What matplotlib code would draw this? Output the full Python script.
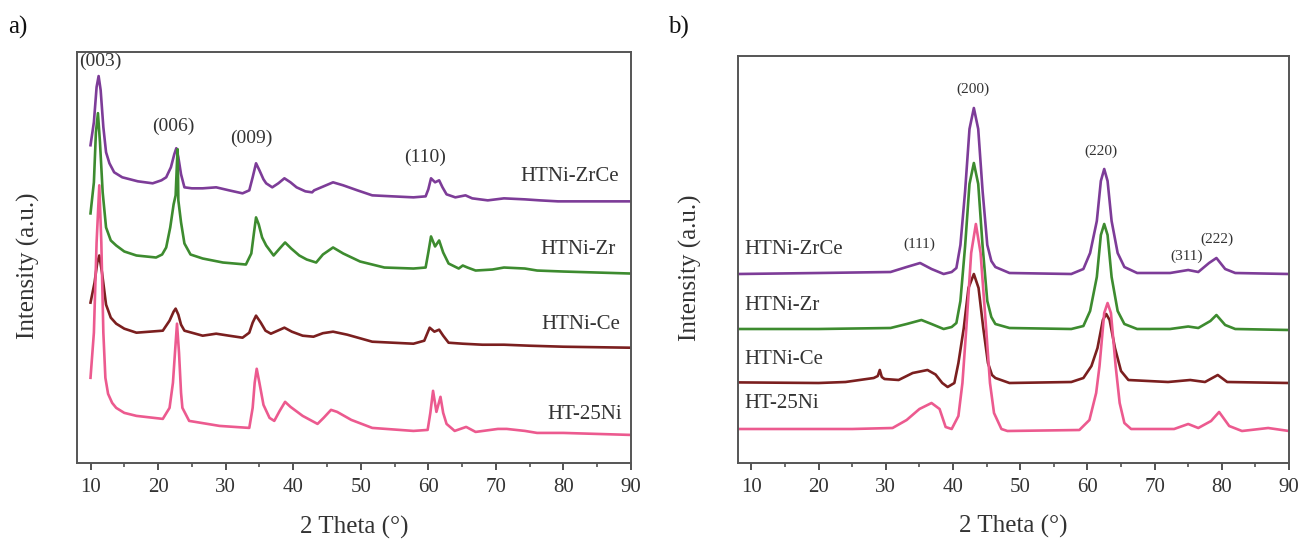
import numpy as np
import matplotlib
matplotlib.use('Agg')
import matplotlib.pyplot as plt
from matplotlib.ticker import MultipleLocator

plt.rcParams['font.family'] = ['Liberation Serif', 'DejaVu Serif']

# (2theta, intensity a.u.), stacked offsets included
# panel a) hydrotalcite precursors
a_zrce = [(10.0, 317), (10.5, 340), (10.9, 375), (11.2, 386), (11.5, 372), (11.9, 335), (12.3, 310),
          (12.8, 299), (13.5, 290), (14.7, 285), (17.0, 281), (19.2, 279), (20.5, 282), (21.2, 285),
          (21.9, 295), (22.4, 308), (22.7, 314), (23.0, 305), (23.4, 288), (23.9, 275), (25.0, 274),
          (26.6, 274), (28.6, 275), (30.5, 272), (32.5, 269), (33.5, 272), (34.0, 285), (34.5, 299),
          (35.0, 292), (35.6, 283), (36.0, 279), (36.9, 275), (37.8, 279), (38.7, 284), (39.6, 280),
          (40.5, 275), (41.8, 271), (42.8, 270), (43.1, 272), (44.5, 276), (45.9, 280), (47.4, 277),
          (49.5, 272), (51.7, 267), (54.7, 266), (57.8, 265), (59.6, 266), (60.0, 273), (60.4, 284),
          (61.0, 280), (61.6, 282), (62.1, 275), (62.7, 268), (64.0, 265), (65.5, 267), (66.5, 264),
          (68.8, 262), (71.2, 264), (74.3, 263), (76.5, 262), (79.2, 261), (84.0, 261), (90.0, 261)]
a_zr = [(10.0, 249), (10.5, 280), (10.8, 330), (11.1, 349), (11.4, 320), (11.8, 270), (12.3, 235),
        (13.0, 222), (13.8, 217), (15.0, 211), (16.8, 207), (19.7, 205), (20.6, 208), (21.2, 215),
        (21.8, 235), (22.3, 258), (22.6, 267), (22.8, 300), (22.9, 313), (23.0, 262), (23.4, 240),
        (23.9, 219), (24.8, 208), (26.6, 204), (29.6, 200), (33.0, 198), (33.8, 209), (34.2, 230),
        (34.5, 245), (34.9, 238), (35.4, 225), (36.0, 217), (37.1, 207), (38.0, 214), (38.8, 220),
        (39.7, 214), (40.9, 207), (42.0, 203), (43.4, 200), (44.4, 208), (45.9, 215), (47.4, 209),
        (49.9, 201), (53.5, 195), (57.8, 194), (59.6, 195), (60.0, 210), (60.4, 226), (61.0, 216),
        (61.6, 222), (62.2, 210), (63.0, 199), (64.5, 194), (65.1, 197), (65.8, 195), (67.0, 192),
        (69.5, 193), (71.2, 195), (74.3, 194), (76.1, 192), (80.0, 191), (90.0, 189)]
a_ce = [(10.0, 160), (10.6, 180), (11.0, 200), (11.3, 207), (11.7, 190), (12.3, 158), (13.0, 145),
        (13.8, 139), (15.0, 134), (16.8, 130), (20.7, 132), (21.7, 142), (22.3, 151), (22.6, 154),
        (23.0, 148), (23.4, 138), (23.9, 132), (26.6, 127), (28.6, 129), (30.5, 127), (32.5, 125),
        (33.5, 130), (34.0, 140), (34.5, 147), (35.2, 140), (35.9, 132), (36.7, 129), (37.7, 132),
        (38.7, 135), (39.8, 131), (41.4, 127), (43.0, 126), (44.4, 129.5), (45.9, 131), (48.0, 128),
        (51.7, 121), (57.8, 119), (59.4, 122), (60.2, 135), (60.9, 131), (61.6, 133), (62.2, 127),
        (63.0, 120), (65.1, 119), (68.0, 118), (71.2, 118), (75.0, 117), (80.0, 116), (90.0, 115)]
a_ht = [(10.0, 85), (10.5, 130), (10.9, 220), (11.3, 277), (11.6, 220), (11.9, 130), (12.2, 85),
        (12.6, 69), (13.2, 60), (13.8, 55), (15.0, 50), (16.8, 47), (20.7, 44), (21.7, 55), (22.2, 80),
        (22.5, 110), (22.8, 139), (23.1, 110), (23.4, 70), (23.6, 55), (24.6, 42), (29.1, 37),
        (33.5, 35), (34.0, 55), (34.3, 80), (34.6, 94), (35.0, 80), (35.6, 58), (36.5, 45), (37.2, 42),
        (38.0, 52), (38.8, 61), (39.6, 56), (41.4, 47), (43.6, 39), (44.5, 45), (45.6, 53), (46.5, 51),
        (48.6, 43), (51.7, 35), (57.8, 32), (59.9, 33), (60.3, 50), (60.7, 72), (61.2, 51), (61.8, 66),
        (62.2, 50), (62.7, 39), (63.9, 32), (65.6, 36), (67.0, 31), (70.3, 34), (71.6, 34), (74.3, 32),
        (76.1, 30), (80.0, 30), (90.0, 28)]

# panel b) calcined samples
b_zrce = [(8, 189), (20, 190), (30.7, 191), (33.1, 196), (35.1, 200), (36.8, 194), (38.6, 189), (39.8, 191),
          (40.5, 195), (41.1, 218), (41.8, 272), (42.45, 334), (43.1, 355), (43.75, 334), (44.4, 272),
          (45.1, 218), (45.7, 202), (46.3, 196), (48.4, 190), (57.6, 189), (59.4, 194), (60.4, 210),
          (61.4, 242), (62.0, 282), (62.5, 294), (63.0, 282), (63.6, 242), (64.5, 210), (65.5, 196),
          (67.4, 190), (72.3, 190), (75.0, 193), (76.5, 191), (78.1, 200), (79.2, 205), (80.5, 194),
          (82.0, 190), (90, 189)]
b_zr = [(8, 134), (20, 134), (30.7, 135), (33.1, 139), (35.3, 143), (36.8, 139), (38.6, 134), (39.8, 136),
        (40.5, 140), (41.1, 162), (41.8, 217), (42.45, 279), (43.1, 300), (43.75, 279), (44.4, 217),
        (45.1, 162), (45.7, 146), (46.3, 139), (48.4, 135), (57.6, 134), (59.4, 137), (60.4, 152),
        (61.4, 186), (62.0, 228), (62.5, 239), (63.0, 228), (63.6, 186), (64.5, 152), (65.5, 139),
        (67.4, 134), (72.3, 134), (75.0, 136.5), (76.5, 135), (78.3, 142), (79.2, 148), (80.5, 138),
        (82.0, 134), (90, 133)]
b_ce = [(8, 80.6), (20, 80), (24, 81), (28.2, 85), (28.8, 87), (29.1, 93), (29.4, 86), (29.8, 84), (31.9, 83),
        (34.0, 90), (36.2, 93), (37.4, 88.5), (38.4, 80), (39.2, 76), (40.2, 80), (40.8, 100), (41.6, 135),
        (42.3, 175), (43.1, 189), (43.8, 175), (44.5, 135), (45.2, 100), (45.8, 88), (46.3, 85), (48.4, 80),
        (57.6, 81), (59.4, 85), (60.6, 97), (61.5, 115), (62.3, 143), (62.8, 149), (63.3, 143),
        (64.1, 115), (65.0, 92), (66.1, 83), (72, 81), (75.3, 83), (77.5, 81), (79.4, 88), (80.8, 81),
        (90, 80)]
b_ht = [(8, 34), (25, 34), (31, 35), (33.1, 43), (35.0, 54), (36.8, 60), (38.0, 54), (38.9, 36), (39.8, 34),
        (40.8, 47), (41.4, 80), (42.0, 137), (42.7, 210), (43.4, 239), (44.1, 210), (44.9, 137), (45.5, 80),
        (46.1, 50), (47.2, 34), (48.1, 32), (58.8, 33), (60.3, 43), (61.3, 70), (61.8, 97), (62.5, 150),
        (63.0, 160), (63.5, 150), (64.2, 97), (64.8, 60), (65.5, 40), (66.5, 34), (72.9, 34), (75.0, 39),
        (76.5, 35), (78.4, 42), (79.6, 51), (81.1, 37), (83, 32), (86.9, 35), (90, 32)]

names = ['HTNi-ZrCe', 'HTNi-Zr', 'HTNi-Ce', 'HT-25Ni']
colors = ['#7d3c98', '#3d8b2f', '#7b1f1f', '#ec5a8f']

a_series = [a_zrce, a_zr, a_ce, a_ht]
a_name_pos = [(88.2, 286), (87.8, 213), (88.4, 138), (88.6, 48)]
a_hkl = ['(003)', '(006)', '(009)', '(110)']
a_hkl_pos = [(11.5, 401), (22.3, 336), (33.8, 324), (59.5, 305)]

b_series = [b_zrce, b_zr, b_ce, b_ht]
b_name_pos = [(9.0, 214), (9.0, 157), (9.0, 104), (9.0, 59)]
b_hkl = ['(200)', '(220)', '(111)', '(311)', '(222)']
b_hkl_pos = [(42.9, 374), (62.0, 312), (35.0, 219), (74.7, 207), (79.3, 224)]

W, H = 1303, 545
fig = plt.figure(figsize=(W / 100, H / 100), dpi=100)
ax_a = fig.add_axes([77 / W, 1 - 463 / H, (631 - 77) / W, (463 - 52) / H])
ax_b = fig.add_axes([738 / W, 1 - 463 / H, (1289 - 738) / W, (463 - 56) / H])

text_col = '#333333'


def style(ax, ytop):
    ax.set_xlim(8, 90)
    ax.set_ylim(0, ytop)
    ax.set_yticks([])
    ax.xaxis.set_major_locator(MultipleLocator(10))
    ax.xaxis.set_minor_locator(MultipleLocator(5))
    ax.set_xticks(np.arange(10, 91, 10))
    ax.tick_params(axis='x', which='major', direction='out', length=5, width=1.3,
                   labelsize=15, pad=6, colors='#444444', labelcolor=text_col)
    ax.tick_params(axis='x', which='minor', direction='out', length=3, width=1.1, colors='#444444')
    for sp in ax.spines.values():
        sp.set_color('#555555')
        sp.set_linewidth(1.4)
    ax.set_xlabel('2 Theta (°)', fontsize=18, color=text_col)
    ax.set_ylabel('Intensity (a.u.)', fontsize=18, color=text_col)
    ax.xaxis.set_label_coords(0.5, -0.128)
    ax.yaxis.set_label_coords(-0.066, 0.48)


for s, c in zip(a_series, colors):
    xy = np.array(s)
    ax_a.plot(xy[:, 0], xy[:, 1], color=c, lw=1.9)
for n, (x, y) in zip(names, a_name_pos):
    ax_a.text(x, y, n, ha='right', va='center', fontsize=15, color=text_col)
for t, (x, y) in zip(a_hkl, a_hkl_pos):
    ax_a.text(x, y, t, ha='center', va='center', fontsize=14, color=text_col)
style(ax_a, 410)

for s, c in zip(b_series, colors):
    xy = np.array(s)
    ax_b.plot(xy[:, 0], xy[:, 1], color=c, lw=1.9)
for n, (x, y) in zip(names, b_name_pos):
    ax_b.text(x, y, n, ha='left', va='center', fontsize=15, color=text_col)
for t, (x, y) in zip(b_hkl, b_hkl_pos):
    ax_b.text(x, y, t, ha='center', va='center', fontsize=11, color=text_col)
style(ax_b, 407)

fig.text(8 / W, 1 - 27 / H, 'a)', fontsize=18, ha='left', va='center', color='#111111')
fig.text(668 / W, 1 - 27 / H, 'b)', fontsize=18, ha='left', va='center', color='#111111')

fig.savefig('out.png', dpi=100)
